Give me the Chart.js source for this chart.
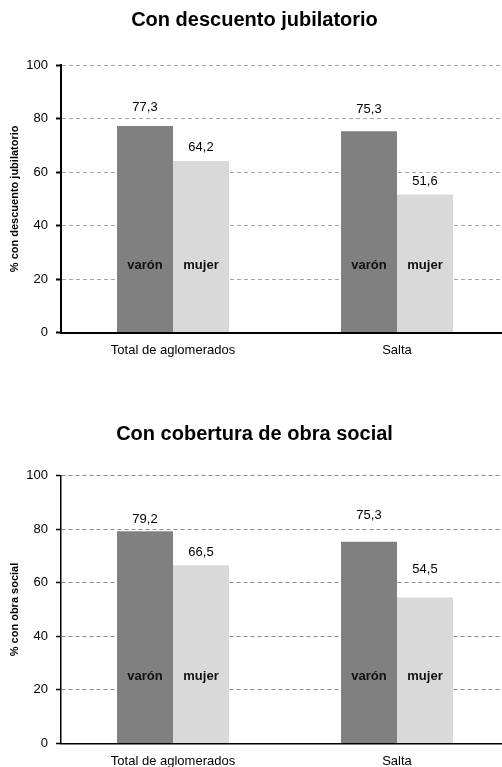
<!DOCTYPE html>
<html>
<head>
<meta charset="utf-8">
<script src="https://cdn.jsdelivr.net/npm/chart.js@4/dist/chart.umd.min.js"></script>
<style>
  html, body { margin: 0; padding: 0; background: #fff; overflow: hidden; width: 502px; height: 767px; }
  .panel { position: absolute; left: 0; width: 511px; }
  #p1 { top: 0; height: 370px; }
  #p2 { top: 410px; height: 357px; }
</style>
</head>
<body>
<div class="panel" id="p1"><canvas id="c1"></canvas></div>
<div class="panel" id="p2"><canvas id="c2"></canvas></div>
<script>
// Categories and series
const categories = ['Total de aglomerados', 'Salta'];
const seriesNames = ['varón', 'mujer'];

const jubilatorioVaron = [77.3, 75.3];
const jubilatorioMujer = [64.2, 51.6];

const obraSocialVaron = [79.2, 75.3];
const obraSocialMujer = [66.5, 54.5];

const yTickValues = [0, 20, 40, 60, 80, 100];

// value at which the series name sits inside each bar
const innerLabelValue = 25;

const FONT = '"Liberation Sans", Arial, sans-serif';
const barColors = ['#808080', '#d9d9d9'];

function fmt(v) { return v.toFixed(1).replace('.', ','); }

// Writes the value above each bar and the series name inside it
const barLabels = {
  id: 'barLabels',
  afterDatasetsDraw(chart, args, opts) {
    const ctx = chart.ctx;
    const y = chart.scales.y;
    ctx.save();
    ctx.textAlign = 'center';
    ctx.textBaseline = 'middle';
    chart.data.datasets.forEach((ds, di) => {
      const meta = chart.getDatasetMeta(di);
      meta.data.forEach((bar, i) => {
        ctx.fillStyle = '#000';
        ctx.font = '13px ' + FONT;
        ctx.fillText(fmt(ds.data[i]), bar.x, bar.y - opts.lift[di][i]);
        ctx.fillStyle = '#111';
        ctx.font = 'bold 13px ' + FONT;
        ctx.fillText(ds.label, bar.x, y.getPixelForValue(innerLabelValue));
      });
    });
    ctx.restore();
  }
};

function makeChart(canvasId, opts) {
  const H = opts.height;
  return new Chart(document.getElementById(canvasId), {
    type: 'bar',
    data: {
      labels: categories,
      datasets: [
        { label: seriesNames[0], data: opts.varon, backgroundColor: barColors[0] },
        { label: seriesNames[1], data: opts.mujer, backgroundColor: barColors[1] }
      ]
    },
    plugins: [barLabels],
    options: {
      responsive: true,
      maintainAspectRatio: false,
      animation: false,
      layout: { padding: { left: 0, right: 2, top: 0, bottom: 0 } },
      datasets: { bar: { categoryPercentage: 0.5, barPercentage: 1.0 } },
      plugins: {
        legend: { display: false },
        tooltip: { enabled: false },
        title: {
          display: true,
          text: opts.title,
          color: '#000',
          font: { family: FONT, size: 20, weight: 'bold', lineHeight: 1.2 },
          padding: { top: opts.titleTop, bottom: opts.titleBottom }
        },
        barLabels: { lift: opts.lift }
      },
      scales: {
        x: {
          grid: { display: false },
          border: { display: true, color: '#000', width: opts.axisWidth },
          ticks: { color: '#000', padding: 2, font: { family: FONT, size: 13 } },
          afterFit(scale) { scale.height = H - opts.plotBottom; }
        },
        y: {
          min: 0,
          max: 100,
          afterBuildTicks(scale) { scale.ticks = yTickValues.map(v => ({ value: v })); },
          grid: {
            color: opts.gridColor,
            lineWidth: 1,
            drawTicks: true,
            tickLength: 5,
            tickColor: '#000',
            tickWidth: opts.axisWidth,
            tickBorderDash: []
          },
          border: { display: true, color: '#000', width: opts.axisWidth, dash: [4, 3] },
          ticks: { color: '#000', padding: 8, font: { family: FONT, size: 13 } },
          title: {
            display: true,
            text: opts.yTitle,
            color: '#000',
            font: { family: FONT, size: 11, weight: 'bold', lineHeight: 1.2 },
            padding: { top: 8, bottom: 0 }
          },
          afterFit(scale) { scale.width = 61; }
        }
      }
    }
  });
}

makeChart('c1', {
  height: 370,
  plotBottom: 332.5,
  title: 'Con descuento jubilatorio',
  titleTop: 8,
  titleBottom: 33.2,
  yTitle: '% con descuento jubilatorio',
  varon: jubilatorioVaron,
  mujer: jubilatorioMujer,
  gridColor: '#a6a6a6',
  axisWidth: 2,
  lift: [[18, 22], [13, 13]]
});

makeChart('c2', {
  height: 357,
  plotBottom: 333.5,
  title: 'Con cobertura de obra social',
  titleTop: 12,
  titleBottom: 29.5,
  yTitle: '% con obra social',
  varon: obraSocialVaron,
  mujer: obraSocialMujer,
  gridColor: '#8a8a8a',
  axisWidth: 1.5,
  lift: [[12, 26], [13, 28]]
});
</script>
</body>
</html>
